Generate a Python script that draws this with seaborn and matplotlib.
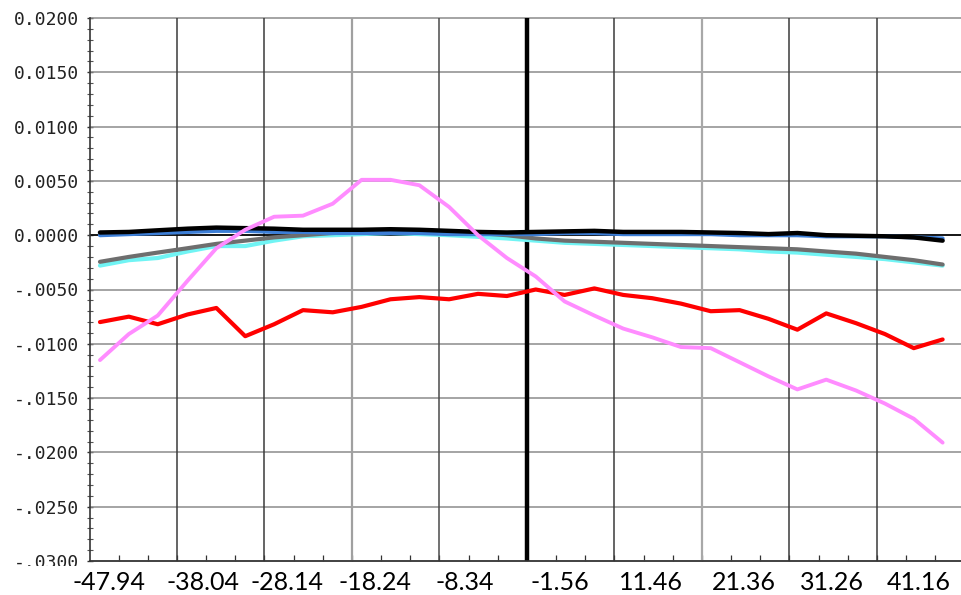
import numpy as np
import pandas as pd
import matplotlib
matplotlib.use("Agg")
import matplotlib.pyplot as plt
import matplotlib.transforms as mtrans
from matplotlib.patches import Rectangle
from matplotlib.ticker import MultipleLocator
import seaborn as sns

# ---------------- data ----------------
x_vals = [-48.8, -45.5, -42.2, -38.8, -35.5, -32.2, -28.9, -25.6, -22.2, -18.9,
          -15.6, -12.3, -8.9, -5.6, -2.3, 1.0, 4.3, 7.7, 11.0, 14.3,
          17.6, 21.0, 24.3, 27.6, 30.9, 34.2, 37.6, 40.9, 44.2, 47.5]

red = [-0.0080, -0.0075, -0.0082, -0.0073, -0.0067, -0.0093, -0.0082, -0.0069, -0.0071, -0.0066,
       -0.0059, -0.0057, -0.0059, -0.0054, -0.0056, -0.0050, -0.0055, -0.0049, -0.0055, -0.0058,
       -0.0063, -0.0070, -0.0069, -0.0077, -0.0087, -0.0072, -0.0081, -0.0091, -0.0104, -0.0096]

pink = [-0.0115, -0.0091, -0.0074, -0.0042, -0.0012, 0.0005, 0.0017, 0.0018, 0.0029, 0.0051,
        0.0051, 0.0046, 0.0026, 0.0000, -0.0021, -0.0038, -0.0061, -0.0074, -0.0086, -0.0094,
        -0.0103, -0.0104, -0.0117, -0.0130, -0.0142, -0.0133, -0.0143, -0.0155, -0.0169, -0.0191]

black = [0.00025, 0.0003, 0.00045, 0.0006, 0.0007, 0.00065, 0.0006, 0.0005, 0.0005, 0.0005,
         0.00055, 0.0005, 0.0004, 0.0003, 0.00025, 0.0003, 0.00035, 0.0004, 0.0003, 0.0003,
         0.0003, 0.00025, 0.0002, 0.0001, 0.0002, 0.0000, -0.00005, -0.0001, -0.0002, -0.0005]

blue = [0.0000, 0.0001, 0.0002, 0.0003, 0.0004, 0.0004, 0.0003, 0.0003, 0.0002, 0.0002,
        0.0002, 0.0002, 0.0001, 0.0001, 0.0001, 0.0001, 0.0002, 0.0002, 0.0001, 0.0001,
        0.0001, 0.0001, 0.0000, 0.0000, 0.0000, -0.0001, -0.0001, -0.0001, -0.0002, -0.0003]

gray = [-0.00245, -0.0020, -0.0016, -0.0012, -0.0008, -0.0005, -0.0002, 0.0000, 0.0002, 0.0003,
        0.0004, 0.0004, 0.0003, 0.0002, 0.0000, -0.0003, -0.0005, -0.0006, -0.0007, -0.0008,
        -0.0009, -0.0010, -0.0011, -0.0012, -0.0013, -0.0015, -0.0017, -0.0020, -0.0023, -0.0027]

cyan = [-0.0028, -0.0023, -0.0021, -0.0015, -0.0010, -0.0010, -0.0005, -0.0001, 0.0000, 0.0001,
        0.0002, 0.0001, 0.0000, -0.00015, -0.0003, -0.0005, -0.0007, -0.0008, -0.0009, -0.0010,
        -0.0011, -0.0012, -0.0013, -0.0015, -0.0016, -0.0018, -0.0020, -0.0022, -0.0025, -0.0028]

y_ticks = [0.02, 0.015, 0.01, 0.005, 0.0, -0.005, -0.01, -0.015, -0.02, -0.025, -0.03]
y_labels = ["0.0200", "0.0150", "0.0100", "0.0050", "0.0000", "-.0050",
            "-.0100", "-.0150", "-.0200", "-.0250", "-.0300"]

x_labels = ["-47.94", "-38.04", "-28.14", "-18.24", "-8.34",
            "-1.56", "11.46", "21.36", "31.26", "41.16"]
x_label_pos = [-47.77, -37.03, -27.43, -17.37, -7.09, 3.77, 14.17, 24.8, 34.86, 44.8]

v_grid = [-40, -30, -20, -10, 0, 10, 20, 30, 40]

# ---------------- frame ----------------
series = {"cyan": cyan, "gray": gray, "blue": blue, "black": black, "red": red, "pink": pink}
df = pd.concat([pd.DataFrame({"x": x_vals, "value": v, "series": k}) for k, v in series.items()],
               ignore_index=True)

sns.set_theme(style="white")
plt.rcParams['font.family'] = ['DejaVu Sans']

fig = plt.figure(figsize=(9.61, 5.95), dpi=100)
ax = fig.add_axes([90 / 961, 1 - 561 / 595, 871 / 961, 543 / 595])
ax.set_xlim(-49.94, 49.6)
ax.set_ylim(-0.03, 0.02)

# grid lines
for y in y_ticks:
    ax.axhline(y, color="#8c8c8c", lw=1.1, zorder=1, clip_on=False)
ax.axhline(0.0, color="black", lw=1.2, zorder=1.5)

v_styles = {-40: ("#3a3a3a", 1.1), -30: ("#3a3a3a", 1.1), -20: ("#a0a0a0", 1.6),
            -10: ("#4a4a4a", 1.1), 0: ("black", 3.2), 10: ("#3a3a3a", 1.1),
            20: ("#a8a8a8", 1.6), 30: ("#3a3a3a", 1.1), 40: ("#3a3a3a", 1.1)}
for xv in v_grid:
    c, w = v_styles[xv]
    ax.axvline(xv, color=c, lw=w, zorder=1.2 if xv != 0 else 1.8)

# series
styles = [("cyan", "#70f4f4", 3.0, 2.0),
          ("gray", "#6e6e6e", 3.0, 2.1),
          ("blue", "#3c7ed6", 3.0, 2.2),
          ("black", "#000000", 3.2, 2.3),
          ("red", "#ff0000", 3.0, 2.5),
          ("pink", "#ff8cff", 2.8, 2.6)]
for name, color, lw, z in styles:
    sns.lineplot(data=df[df["series"] == name], x="x", y="value", color=color,
                 linewidth=lw, ax=ax, zorder=z, legend=False, sort=False,
                 errorbar=None)

ax.set_xlabel("")
ax.set_ylabel("")

# spines
for s in ["left", "bottom"]:
    ax.spines[s].set_color("#333333")
    ax.spines[s].set_linewidth(1.2)
ax.spines["top"].set_visible(False)
ax.spines["right"].set_visible(False)

# ticks
ax.set_yticks(y_ticks, labels=y_labels, fontfamily="DejaVu Sans Mono", fontsize=13)
ax.yaxis.set_minor_locator(MultipleLocator(0.001))
ax.tick_params(axis="y", which="major", length=5, width=1.0, direction="inout",
               color="#333333", pad=5.5, labelcolor="#222222", left=True)
ax.tick_params(axis="y", which="minor", length=4, width=0.8, direction="inout",
               color="#555555", left=True)
ax.set_xticks([])
ax.xaxis.set_minor_locator(MultipleLocator(10 / 3))
ax.tick_params(axis="x", which="minor", length=4, width=0.9, direction="in",
               color="#333333", bottom=True)

# white band that hides the bottom of the lowest y label (as in the reference)
fig.add_artist(Rectangle((0, 0), 1, 29 / 595, transform=fig.transFigure,
                         facecolor="white", edgecolor="none", zorder=5))

# x labels (overlay)
trans = mtrans.blended_transform_factory(ax.transData, fig.transFigure)
for pos, lab in zip(x_label_pos, x_labels):
    fig.text(pos, 0.5 / 595, lab, transform=trans, ha="center", va="bottom",
             fontsize=18, family=["Lato", "DejaVu Sans"], color="black", zorder=6)

fig.savefig("out.png", dpi=100)
